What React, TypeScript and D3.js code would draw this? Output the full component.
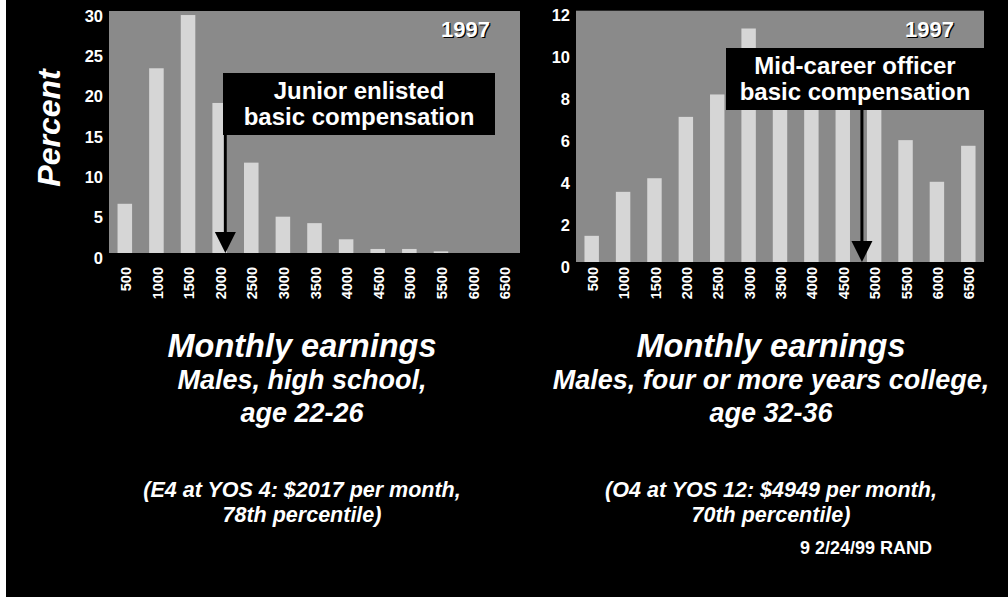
import React from 'react';
import * as d3 from 'd3';

const categories = ['500', '1000', '1500', '2000', '2500', '3000', '3500', '4000', '4500', '5000', '5500', '6000', '6500'];
const juniorValues = [6.1, 22.9, 29.5, 18.6, 11.2, 4.5, 3.7, 1.7, 0.5, 0.5, 0.2, 0, 0];
const officerValues = [1.25, 3.35, 4.0, 6.93, 8.0, 11.15, 9.8, 9.5, 9.0, 8.6, 5.82, 3.83, 5.55];
const juniorTicks = [0, 5, 10, 15, 20, 25, 30];
const officerTicks = [0, 2, 4, 6, 8, 10, 12];
const juniorArrowAt = 2090;
const officerArrowAt = 4805;
const juniorBoxLines = ['Junior enlisted', 'basic compensation'];
const officerBoxLines = ['Mid-career officer', 'basic compensation'];
const juniorCaption = ['Monthly earnings', 'Males, high school,', 'age 22-26', '(E4 at YOS 4: $2017 per month,', '78th percentile)'];
const officerCaption = ['Monthly earnings', 'Males, four or more years college,', 'age 32-36', '(O4 at YOS 12: $4949 per month,', '70th percentile)'];
const yearLabel = '1997';
const footer = '9 2/24/99 RAND';

const FONT = '"Liberation Sans", Arial, Helvetica, sans-serif';
const PLOT_BG = '#8a8a8a';
const BAR = '#d6d6d6';

type PanelProps = {
  x0: number; x1: number; y0: number; y1: number;
  max: number; ticks: number[]; values: number[]; arrowAt: number;
  box: { x: number; y: number; w: number; h: number }; lines: string[];
  caption: string[]; captionX: number;
};

function Panel(p: PanelProps) {
  const x = d3.scaleBand<string>().domain(categories).range([p.x0, p.x1]).paddingInner(0.54).paddingOuter(0.27);
  const y = d3.scaleLinear().domain([0, p.max]).range([p.y1, p.y0]);
  const bw = x.bandwidth();
  const xLin = d3.scaleLinear().domain([500, 6500]).range([x('500')! + bw / 2, x('6500')! + bw / 2]);
  const ax = xLin(p.arrowAt);
  const boxBottom = p.box.y + p.box.h;
  const headH = 21;
  const headW = 21;
  const yArrowTip = y(0);
  return (
    <g>
      <rect x={p.x0} y={p.y0} width={p.x1 - p.x0} height={p.y1 - p.y0} fill={PLOT_BG} />
      {p.values.map((v, i) => (
        <rect key={i} x={x(categories[i])} y={y(v)} width={bw} height={p.y1 - y(v)} fill={BAR} />
      ))}
      {p.ticks.map((t) => (
        <text key={t} x={p.x0 - 6} y={y(t) + 5} dy="0.35em" textAnchor="end" fill="#fff"
          fontFamily={FONT} fontWeight="bold" fontSize={16.5}>{t}</text>
      ))}
      {categories.map((c) => (
        <text key={c} transform={`translate(${x(c)! + bw / 2 + 1},267) rotate(-90)`} dy="0.35em" textAnchor="end"
          fill="#fff" fontFamily={FONT} fontWeight="bold" fontSize={14.5}>{c}</text>
      ))}
      <text x={p.x1 - 30} y={p.y0 + 26} textAnchor="end" fill="#000" fontFamily={FONT} fontWeight="bold" fontSize={22}
        transform="translate(1.2,1.2)">{yearLabel}</text>
      <text x={p.x1 - 30} y={p.y0 + 26} textAnchor="end" fill="#fff" fontFamily={FONT} fontWeight="bold" fontSize={22}>{yearLabel}</text>
      <rect x={p.box.x} y={p.box.y} width={p.box.w} height={p.box.h} fill="#000" />
      {p.lines.map((l, i) => (
        <text key={i} x={p.box.x + p.box.w / 2} y={p.box.y + 26 + i * 26} textAnchor="middle" fill="#fff"
          fontFamily={FONT} fontWeight="bold" fontSize={24}>{l}</text>
      ))}
      <rect x={ax - 1.5} y={boxBottom} width={3} height={yArrowTip - headH - boxBottom + 1} fill="#000" />
      <path d={`M${ax - headW / 2},${yArrowTip - headH} L${ax + headW / 2},${yArrowTip - headH} L${ax},${yArrowTip} Z`} fill="#000" />
      {p.caption.map((l, i) => {
        const ys = [356.5, 389, 421.5, 496.5, 521.5];
        const fs = [32.5, 27, 27, 21.5, 21.5];
        return (
          <text key={i} x={p.captionX} y={ys[i]} textAnchor="middle" fill="#fff" fontFamily={FONT}
            fontWeight="bold" fontStyle="italic" fontSize={fs[i]}>{l}</text>
        );
      })}
    </g>
  );
}

export default function App() {
  return (
    <svg width={1008} height={599} style={{ position: 'absolute', left: 0, top: 0, display: 'block' }}>
      <rect x={0} y={0} width={1008} height={599} fill="#fff" />
      <rect x={6} y={0} width={1002} height={597} fill="#000" />
      <Panel x0={109} x1={520} y0={11} y1={253} max={30} ticks={juniorTicks} values={juniorValues}
        arrowAt={juniorArrowAt} box={{ x: 223, y: 73, w: 272, h: 62 }} lines={juniorBoxLines}
        caption={juniorCaption} captionX={302} />
      <Panel x0={576} x1={984} y0={10.7} y1={262} max={12} ticks={officerTicks} values={officerValues}
        arrowAt={officerArrowAt} box={{ x: 726, y: 48, w: 258, h: 62 }} lines={officerBoxLines}
        caption={officerCaption} captionX={771} />
      <text transform="translate(60,128) rotate(-90)" textAnchor="middle" fill="#fff" fontFamily={FONT}
        fontWeight="bold" fontStyle="italic" fontSize={32}>Percent</text>
      <text x={932} y={554} textAnchor="end" fill="#fff" fontFamily={FONT} fontWeight="bold" fontSize={18}>{footer}</text>
    </svg>
  );
}
